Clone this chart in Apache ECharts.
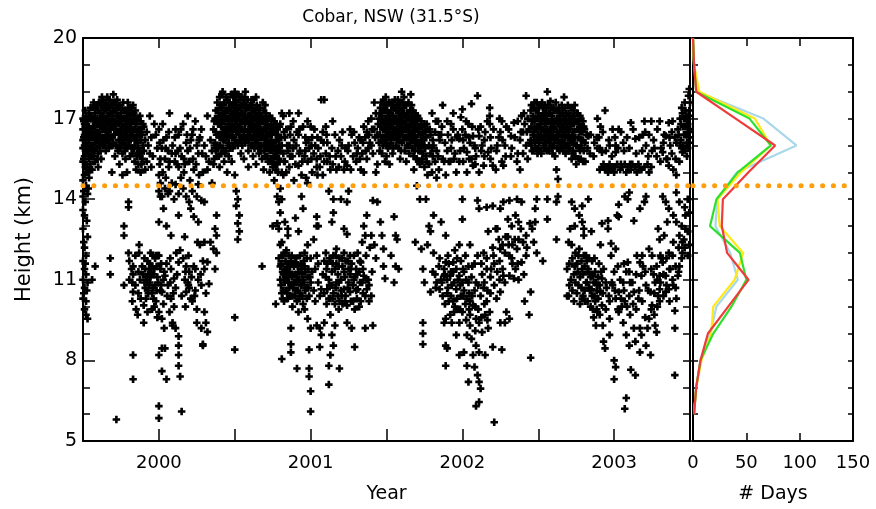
<!DOCTYPE html>
<html>
<head>
<meta charset="utf-8">
<script src="https://cdn.jsdelivr.net/npm/echarts@6/dist/echarts.min.js"></script>
<style>
  html, body { margin: 0; padding: 0; background: #fff; }
  #chart { width: 876px; height: 509px; }
</style>
</head>
<body>
<div id="chart"></div>
<script>
// tropopause heights (km), one row per date: [decimal year, height, height, ...]
var tp1999 = [
  [1999.50,17.0,16.6,16.2,15.9,15.4,14.7,14.1,13.6,12.9,11.7,11.0,10.3],
  [1999.51,16.8,16.4,16.0,15.6,14.9,13.4,12.2,11.4,10.7,9.9],
  [1999.52,17.1,16.5,16.1,15.7,15.2,14.5,11.9,11.2,10.2,9.7],
  [1999.53,16.9,16.3,15.8,15.0,14.2,12.6,10.9,9.55],
  [1999.54,17.2,16.7,16.2,15.5,14.8],
  [1999.55,17.4,16.6,16.0,15.3],
  [1999.56,17.0,16.4,15.8,15.1,11.0],
  [1999.57,17.6,16.9,16.3,15.6],
  [1999.58,17.2,16.7,16.1,15.4,11.5],
  [1999.59,17.5,16.5,15.9],
  [1999.60,17.3,16.8,16.2,15.7,15.2],
  [1999.61,17.6,17.0,16.4],
  [1999.62,17.5,16.9,16.1,15.5],
  [1999.63,17.7,17.1,16.6,16.0],
  [1999.64,17.3,16.7,16.3],
  [1999.65,17.6,17.0,16.5,15.8],
  [1999.66,17.8,16.9,16.2],
  [1999.67,17.4,16.8,16.4,15.9],
  [1999.68,17.2,16.6,16.0,11.8,11.2],
  [1999.69,17.5,17.0,16.3,15.0],
  [1999.70,17.9,17.3,16.7,16.1],
  [1999.71,17.6,16.9,16.4,15.6],
  [1999.72,17.4,16.8,16.0,5.8],
  [1999.73,17.1,16.5,15.8],
  [1999.74,17.5,16.9,16.2,15.3],
  [1999.75,17.2,16.6,16.0],
  [1999.76,17.0,16.4,15.7,14.9],
  [1999.77,17.3,16.7,16.1,13.0,12.65,10.8],
  [1999.78,16.9,16.3,15.5],
  [1999.79,17.1,16.5,15.9,15.0],
  [1999.80,17.4,16.8,16.2,13.9,13.7,12.0],
  [1999.81,17.0,16.4,15.6],
  [1999.82,17.2,16.6,15.9,11.4],
  [1999.83,17.5,16.9,16.3,11.5,11.2,10.55,8.2,7.3],
  [1999.84,17.1,16.0,15.4],
  [1999.85,16.8,16.3,15.1,9.9],
  [1999.86,17.0,16.1,15.7,9.7],
  [1999.87,16.6,15.8,12.3,12.0],
  [1999.88,16.9,16.2,15.0,10.3],
  [1999.89,16.4,15.5,11.5],
  [1999.90,16.7,15.8,10.05,9.4],
  [1999.91,16.2,15.1,11.4,10.7],
  [1999.92,16.5,15.4,11.0],
  [1999.93,16.0,11.2,10.5],
  [1999.94,17.1,15.7,11.6,10.9],
  [1999.95,16.3,15.2,11.3],
  [1999.96,15.6,11.9,10.7],
  [1999.97,16.8,11.4,10.0],
  [1999.98,16.4,11.9,10.2],
  [1999.99,15.9,11.1,9.6],
  [1999.505,16.9,16.3,15.5,14.3,12.4,10.5],
  [1999.515,17.3,16.7,15.9,15.2,13.9,11.6],
  [1999.525,16.6,16.0,15.3,13.2,10.6],
  [1999.535,17.0,16.4,15.7,14.4],
  [1999.545,16.5,15.9,15.1],
  [1999.555,17.1,16.3,15.6],
  [1999.565,17.4,16.7,16.0],
  [1999.575,17.0,16.5,15.8],
  [1999.585,17.4,16.9,16.3],
  [1999.595,17.0,16.2,15.5],
  [1999.605,17.6,16.5,16.0],
  [1999.615,17.2,16.8,15.8],
  [1999.625,17.8,16.7,16.3],
  [1999.635,17.4,16.9,16.2],
  [1999.645,17.5,17.0,16.0],
  [1999.655,17.3,16.8,16.2],
  [1999.665,17.5,17.1,16.5],
  [1999.675,17.7,16.6,16.1],
  [1999.685,17.5,16.9,16.3],
  [1999.695,17.2,16.7,16.0],
  [1999.705,17.6,16.9,16.4],
  [1999.715,17.3,16.6,16.0],
  [1999.725,17.7,17.1,16.5],
  [1999.735,17.4,16.8,16.2],
  [1999.745,17.0,16.5,15.9],
  [1999.755,17.4,16.9,16.3],
  [1999.765,17.6,16.7,16.1],
  [1999.775,17.0,16.5,15.8],
  [1999.785,17.3,16.7,16.0],
  [1999.795,17.6,16.8,16.3],
  [1999.805,17.2,16.6,16.0,11.7,11.0],
  [1999.815,17.4,16.8,16.2],
  [1999.825,16.9,16.4,15.7,10.9,10.2],
  [1999.835,17.2,16.6,15.9],
  [1999.845,17.3,16.6,16.2,11.9,10.8],
  [1999.855,16.9,16.4,15.6],
  [1999.865,16.6,15.9,15.3,11.3,10.5],
  [1999.875,17.1,16.4,15.6,11.0],
  [1999.885,16.5,15.7,15.3],
  [1999.895,16.8,16.0,11.2],
  [1999.905,11.8,10.9],
  [1999.915,11.1,10.3],
  [1999.925,11.7,10.6,9.8],
  [1999.935,11.4,10.8],
  [1999.945,12.0,11.1],
  [1999.955,11.5,10.5,9.9],
  [1999.965,11.2,10.3],
  [1999.975,11.8,10.8],
  [1999.985,11.5,10.6],
  [1999.995,11.9,10.9]
];
var tp2000 = [
  [2000.00,16.6,14.9,14.3,13.15,11.9,9.8,8.2,6.3,5.85],
  [2000.01,15.5,14.6,14.1,11.4,10.6],
  [2000.02,15.9,14.1,10.55,9.55,8.45,7.6],
  [2000.03,16.2,13.65,11.0,10.1],
  [2000.04,15.5,14.4,11.15,8.45],
  [2000.05,16.3,13.0,11.6,7.3],
  [2000.06,15.8,14.2,10.8],
  [2000.07,17.2,15.4,14.3,9.8],
  [2000.08,12.65,11.4,10.3],
  [2000.09,16.0,9.4,9.3],
  [2000.10,14.0,11.05,10.0],
  [2000.11,16.6,15.7,14.55,10.7,9.2],
  [2000.12,15.3,11.2],
  [2000.13,16.4,15.2,14.2,13.4,11.65,8.9,8.55,8.2,7.8],
  [2000.14,15.9,12.1,7.4],
  [2000.15,15.6,10.4,6.1],
  [2000.16,16.8,14.4,11.8],
  [2000.17,15.3,12.6,11.0],
  [2000.18,16.1,14.1,11.5,10.55],
  [2000.19,17.1,15.8,10.9],
  [2000.20,15.4,13.9,11.3,10.7],
  [2000.21,16.2,13.65,10.3],
  [2000.22,16.4,14.3,10.2],
  [2000.23,15.1,13.35,11.5],
  [2000.24,16.9,11.4,10.6],
  [2000.25,16.0,14.1,9.9,9.4],
  [2000.26,15.7,14.55,13.15,11.0],
  [2000.27,16.3,12.3],
  [2000.28,16.6,13.95,10.8,9.2],
  [2000.29,15.0,11.7,8.55,8.6],
  [2000.30,16.0,13.9,12.4,11.4,9.8],
  [2000.31,15.6,10.5,9.4],
  [2000.32,17.1,15.1,11.66,9.06],
  [2000.33,15.4,10.85],
  [2000.34,16.2,12.4],
  [2000.35,15.8,14.6],
  [2000.36,16.6,15.3,12.15],
  [2000.37,17.0,16.1,12.9,11.4],
  [2000.38,16.4,15.6,13.4,12.65,12.0],
  [2000.39,17.3,16.8,15.9],
  [2000.40,17.8,17.0,16.3,15.2],
  [2000.41,17.4,16.7,15.7],
  [2000.42,18.0,17.2,16.5,15.9],
  [2000.43,17.6,16.9,16.2,15.4],
  [2000.44,17.3,16.6,15.8],
  [2000.45,17.7,17.0,16.4,15.0],
  [2000.46,17.4,16.8,16.1,15.6],
  [2000.47,17.1,16.6,15.9],
  [2000.48,17.5,16.9,16.3,15.4],
  [2000.49,17.8,17.2,16.7,16.0],
  [2000.50,18.0,17.4,16.8,16.2,14.9,9.6,8.4],
  [2000.51,17.6,17.0,16.5,14.3,13.75],
  [2000.52,17.3,16.7,16.0,14.0,13.1,12.5],
  [2000.53,17.7,17.1,16.4,13.4,12.8],
  [2000.54,17.5,16.9,16.2,15.7],
  [2000.55,17.2,16.6,16.0],
  [2000.56,17.6,17.0,16.4,15.5],
  [2000.57,18.0,17.3,16.8,16.1],
  [2000.58,17.4,16.9,16.3],
  [2000.59,17.1,16.6,15.8,15.2],
  [2000.60,17.5,16.9,16.4],
  [2000.61,17.7,17.2,16.7,16.0],
  [2000.62,17.3,16.8,16.3,15.6],
  [2000.63,17.0,16.5,15.9],
  [2000.64,17.8,17.1,16.6,16.2,15.3],
  [2000.65,17.4,16.8,16.1],
  [2000.66,17.2,16.6,16.0,15.7],
  [2000.67,17.0,16.4,15.8],
  [2000.68,16.9,16.3,15.5,11.5],
  [2000.69,17.3,16.6,16.0,15.1],
  [2000.70,17.5,16.8,16.2,15.6],
  [2000.71,17.0,16.5,15.9],
  [2000.72,16.7,16.1,15.4],
  [2000.73,17.1,16.4,15.8,15.0],
  [2000.74,16.8,16.2,15.5],
  [2000.75,16.5,15.9,15.2,13.0],
  [2000.76,16.9,16.0,15.6,14.7],
  [2000.77,16.4,15.7,15.1,10.1],
  [2000.78,16.6,15.9,15.3,14.1,13.1],
  [2000.79,16.2,15.5,13.9,12.9,11.8],
  [2000.80,16.8,15.8,14.4,13.5,12.3,11.5,11.0],
  [2000.81,17.2,16.0,15.0,14.0,12.4,11.9,10.5,8.05],
  [2000.82,17.1,15.7,14.9,11.9,11.2,10.6],
  [2000.83,16.3,15.4,13.15,11.4,10.9],
  [2000.84,16.6,15.0,12.1,11.0],
  [2000.85,15.8,12.9,12.65,11.6,11.15,10.3],
  [2000.86,17.2,16.0,15.2,11.3,10.7],
  [2000.87,16.7,11.7,10.8,9.2,8.6,8.3],
  [2000.88,15.6,11.2,10.4,10.0],
  [2000.89,16.2,14.7,11.5,10.9],
  [2000.90,15.3,13.3,11.65,10.6],
  [2000.91,16.5,11.1,10.2,7.7],
  [2000.92,17.2,16.4,15.25,12.8,11.3,9.8],
  [2000.93,15.8,11.9,10.5],
  [2000.94,14.9,14.1,11.4,10.8],
  [2000.95,16.7,13.65,11.0,10.1],
  [2000.96,15.6,12.0,11.5,9.9],
  [2000.97,16.1,14.8,10.7],
  [2000.98,16.9,15.4,14.6,12.3,11.1,9.55],
  [2000.99,15.9,10.4,8.4,7.7,7.4],
  [2000.005,16.1,15.3],
  [2000.015,11.6,10.8],
  [2000.025,16.8,15.0],
  [2000.035,11.3,9.2],
  [2000.045,15.9,14.8],
  [2000.055,10.4],
  [2000.065,16.5,15.2],
  [2000.075,11.8,10.9],
  [2000.085,15.7,14.6],
  [2000.095,10.5],
  [2000.105,16.3,15.4],
  [2000.115,12.0],
  [2000.125,15.8],
  [2000.145,16.6,14.8],
  [2000.165,15.5,15.0],
  [2000.175,11.3,10.0],
  [2000.185,16.4],
  [2000.195,11.9,10.8],
  [2000.205,15.9,14.7],
  [2000.215,11.1],
  [2000.225,16.6,15.5],
  [2000.235,10.4],
  [2000.245,15.3],
  [2000.255,12.4],
  [2000.265,16.2,14.9],
  [2000.275,11.2],
  [2000.285,15.7],
  [2000.365,16.9,16.0,15.5],
  [2000.375,17.3,16.5,15.8],
  [2000.385,17.6,16.9,16.0],
  [2000.395,17.1,16.4,15.6],
  [2000.405,17.5,16.8,16.0],
  [2000.415,17.9,17.1,16.4],
  [2000.425,17.5,16.9,16.2],
  [2000.435,17.2,16.5,15.7],
  [2000.445,17.8,17.0,16.3],
  [2000.455,17.3,16.7,16.0],
  [2000.465,17.6,17.0,16.4],
  [2000.475,17.9,17.3,16.6],
  [2000.485,17.1,16.5,15.9],
  [2000.495,17.6,17.0,16.3],
  [2000.505,17.8,17.2,16.6],
  [2000.515,17.4,16.8,16.1],
  [2000.525,17.9,17.1,16.5],
  [2000.535,17.4,16.8,16.2],
  [2000.545,17.8,17.2,16.6],
  [2000.555,17.5,16.9,16.3],
  [2000.565,17.8,17.1,16.6],
  [2000.575,17.5,16.9,16.2],
  [2000.585,17.7,17.1,16.5],
  [2000.595,17.4,16.8,16.2],
  [2000.605,17.1,16.6,16.0],
  [2000.615,17.5,16.9,16.3],
  [2000.625,17.7,17.0,16.5],
  [2000.635,17.3,16.7,16.1],
  [2000.645,17.5,16.9,16.4],
  [2000.655,17.1,16.5,15.9],
  [2000.665,17.4,16.8,16.3],
  [2000.675,17.1,16.6,16.0],
  [2000.685,17.6,17.0,16.4],
  [2000.695,16.9,16.3,15.8],
  [2000.705,17.2,16.5,16.0],
  [2000.715,16.8,16.2,15.6],
  [2000.725,17.0,16.4,15.9],
  [2000.735,16.6,16.0,15.4],
  [2000.745,17.0,16.4,15.8],
  [2000.755,16.7,16.1,15.5],
  [2000.765,16.5,15.9,15.3],
  [2000.775,16.8,16.2,15.6],
  [2000.785,16.4,15.8,15.0],
  [2000.795,16.7,16.0,15.4],
  [2000.805,16.3,11.6,10.8],
  [2000.815,11.3,10.3],
  [2000.825,16.5,15.4,12.0,11.0,10.2],
  [2000.835,11.7,10.6],
  [2000.845,16.0,11.4,10.5],
  [2000.855,11.9,10.9],
  [2000.865,16.4,15.6,11.5,10.4],
  [2000.875,11.9,11.1],
  [2000.885,16.9,15.9,11.6,10.7],
  [2000.895,11.2,10.4],
  [2000.905,16.0,11.8,10.9],
  [2000.915,11.5,10.6],
  [2000.925,16.6,15.7,11.0,10.3],
  [2000.935,11.6,10.8],
  [2000.945,15.4,11.2,10.4],
  [2000.955,11.7,10.9],
  [2000.965,16.3,15.8,11.3,10.6],
  [2000.975,11.8,10.3],
  [2000.985,16.2,11.4,10.7],
  [2000.995,11.1]
];
var tp2001 = [
  [2001.00,16.7,11.8,10.9,9.2,6.85,6.1],
  [2001.01,16.3,15.0,11.3],
  [2001.02,15.7,12.5,10.6],
  [2001.03,16.0,11.4,10.2],
  [2001.04,15.5,15.2,13.35,13.0,11.9,9.3],
  [2001.05,15.9,13.0,11.6,10.9],
  [2001.06,15.2,10.4,9.2,8.5],
  [2001.07,17.7,16.2,10.65,8.95],
  [2001.08,16.5,14.9,11.2],
  [2001.09,17.7,15.4,11.7,10.5,9.4],
  [2001.10,16.7,15.7,12.0,11.1],
  [2001.11,16.1,15.4,11.6,10.65],
  [2001.12,14.3,11.0,10.3,7.8,7.1],
  [2001.13,15.1,11.7,10.3,9.7,8.2],
  [2001.14,15.9,13.15,11.3,10.8,8.95],
  [2001.15,14.0,13.5,11.9,10.5,8.55],
  [2001.16,16.4,11.4,10.1,9.3],
  [2001.17,15.1,12.15,11.6,10.9],
  [2001.18,15.8,11.2,10.4],
  [2001.19,16.2,11.8,10.2,7.7],
  [2001.20,15.6,14.0,11.0,10.6],
  [2001.21,16.5,11.5,10.1],
  [2001.22,15.1,12.9,12.0,11.3,10.65],
  [2001.23,15.9,11.7,10.4],
  [2001.24,15.25,13.9,12.7,10.05,9.4],
  [2001.25,16.0,14.3,11.4,10.9],
  [2001.26,16.6,11.9,11.2,10.55],
  [2001.27,16.4,11.6,9.2],
  [2001.28,15.6,10.8,10.2],
  [2001.29,16.1,11.1,9.9,8.5],
  [2001.30,15.4,11.4,10.6],
  [2001.31,15.9,12.0,10.65],
  [2001.32,16.3,11.3,10.0],
  [2001.33,16.2,15.1,11.65,10.2],
  [2001.34,15.7,12.4,10.9],
  [2001.35,16.7,15.0,13.0,11.15],
  [2001.36,16.3,12.65,10.4,9.2],
  [2001.37,16.5,15.5,13.4,10.65],
  [2001.38,16.9,15.9,11.0],
  [2001.39,16.1,12.2],
  [2001.40,17.0,16.0,12.65,10.4],
  [2001.41,15.7,13.95,9.3],
  [2001.42,17.6,16.6,12.3],
  [2001.43,17.2,15.0,11.8],
  [2001.44,16.4,15.3,13.9],
  [2001.45,17.0,16.1],
  [2001.46,17.4,16.7,13.15],
  [2001.47,17.1,15.7,12.65],
  [2001.48,17.7,16.9,16.3,12.15,11.5],
  [2001.49,17.3,16.6,15.4,11.05],
  [2001.50,17.5,16.8,16.2,15.6],
  [2001.51,17.2,16.5,15.9],
  [2001.52,17.6,17.0,16.4,15.3],
  [2001.53,17.3,16.7,16.1,11.9],
  [2001.54,17.6,16.9,16.3,15.7],
  [2001.55,17.4,16.6,13.35,10.9],
  [2001.56,17.0,16.4,12.65,11.5],
  [2001.57,17.5,16.8,16.2,12.5],
  [2001.58,17.2,16.6,15.9,11.4],
  [2001.59,17.6,17.0,16.4,15.5],
  [2001.60,18.0,17.3,16.7,16.1],
  [2001.61,17.4,16.9,16.2],
  [2001.62,17.1,16.6,15.8],
  [2001.63,17.5,16.9,16.3,15.4],
  [2001.64,17.2,16.7,16.0],
  [2001.65,17.0,16.5,15.7],
  [2001.66,17.9,17.3,16.8,16.2],
  [2001.67,17.1,16.5,15.9],
  [2001.68,16.9,16.3,15.6,15.1],
  [2001.69,17.2,16.6,16.0,12.4],
  [2001.70,16.8,16.1,15.5,14.5],
  [2001.71,17.0,16.4,15.8],
  [2001.72,16.7,16.0,15.3,14.0],
  [2001.73,16.9,16.2,12.15],
  [2001.74,16.5,15.7,11.4,9.4,9.0,8.6],
  [2001.75,16.8,16.0,15.2,10.9],
  [2001.76,16.3,15.6,14.0],
  [2001.77,16.6,14.9,12.3],
  [2001.78,16.0,15.3,13.0],
  [2001.79,16.4,15.7,12.8,10.55],
  [2001.80,17.2,15.9,15.0],
  [2001.81,16.0,13.4,12.0],
  [2001.82,16.5,15.4,11.2],
  [2001.83,15.8,14.8,10.9],
  [2001.84,16.9,15.6],
  [2001.85,16.2,11.8,10.65],
  [2001.86,16.4,13.15,11.0],
  [2001.87,17.5,15.5,10.4],
  [2001.88,15.4,11.4,11.15,9.4],
  [2001.89,14.9,12.65,11.65,9.55,8.55,7.8],
  [2001.90,16.9,15.8,11.0,10.5,8.45],
  [2001.91,15.4,11.6,10.2],
  [2001.92,15.4,11.15,9.7],
  [2001.93,16.2,10.8,9.4],
  [2001.94,17.2,16.6,11.65,11.3,10.2],
  [2001.95,15.7,12.1,10.0],
  [2001.96,15.0,11.4,10.65,8.95],
  [2001.97,16.4,11.0,9.9],
  [2001.98,16.25,15.4,12.3,11.15,9.4,8.2],
  [2001.99,17.05,11.7,10.4],
  [2001.005,16.0,15.5],
  [2001.025,16.6],
  [2001.045,16.3,14.9],
  [2001.065,15.6],
  [2001.085,16.1],
  [2001.105,16.4,11.4,10.1],
  [2001.125,15.6,11.8,10.8],
  [2001.145,16.9,15.3,11.6,10.3],
  [2001.165,15.6,11.9,10.7],
  [2001.185,15.2,11.5,10.9,9.9],
  [2001.205,16.0,11.8,10.4],
  [2001.225,15.4,11.1,10.2],
  [2001.245,15.8,11.7,10.7],
  [2001.265,15.1,11.4,10.2],
  [2001.285,16.5,11.9,11.0],
  [2001.305,15.7,11.2,10.3],
  [2001.325,15.5,11.7,10.9],
  [2001.345,16.1,11.4,10.5],
  [2001.365,15.8,11.9,11.0],
  [2001.385,16.4,10.8,10.2],
  [2001.405,16.6,11.3],
  [2001.425,16.3],
  [2001.445,16.8],
  [2001.455,17.2,16.4,15.8],
  [2001.465,17.6,16.9,16.2],
  [2001.475,17.3,16.6,16.0],
  [2001.485,17.5,16.8,16.1],
  [2001.495,17.8,17.0,16.4],
  [2001.505,17.3,16.6,16.0],
  [2001.515,17.6,16.9,16.3],
  [2001.525,17.2,16.7,16.0],
  [2001.535,17.5,16.9,16.4],
  [2001.545,17.1,16.5,15.9],
  [2001.555,17.7,16.9,16.3],
  [2001.565,17.3,16.6,16.0],
  [2001.575,17.7,16.9,16.4],
  [2001.585,17.4,16.8,16.2],
  [2001.595,17.1,16.5,15.8],
  [2001.605,17.6,16.9,16.4],
  [2001.615,17.8,17.2,16.6],
  [2001.625,17.5,16.8,16.3],
  [2001.635,17.2,16.6,16.0],
  [2001.645,17.6,17.0,16.4],
  [2001.655,17.3,16.7,16.1],
  [2001.665,17.5,16.9,16.4],
  [2001.675,17.3,16.7,16.2],
  [2001.685,17.0,16.5,15.8],
  [2001.695,16.8,16.2,15.5],
  [2001.705,17.1,16.6,16.0],
  [2001.715,16.7,16.1,15.4],
  [2001.725,16.4,15.8],
  [2001.735,16.7,16.0,15.5],
  [2001.745,16.2],
  [2001.755,16.5,15.9],
  [2001.765,16.8,15.4],
  [2001.785,16.6],
  [2001.805,16.2,15.6,11.3],
  [2001.825,16.9,10.7],
  [2001.845,16.4,15.1,11.5],
  [2001.865,16.7,10.9],
  [2001.885,16.1,11.2,10.1],
  [2001.905,16.4,11.9,10.7],
  [2001.925,16.8,15.9,11.3,10.4],
  [2001.945,15.5,10.9,9.8],
  [2001.965,16.3,11.8,10.3],
  [2001.985,15.8,10.8,9.9]
];
var tp2002 = [
  [2002.00,17.35,16.6,14.0,13.25,10.9,9.8],
  [2002.01,15.9,11.3,10.6,8.3],
  [2002.02,16.4,11.9,10.1],
  [2002.03,15.75,15.0,10.3,8.95,7.8],
  [2002.04,16.8,11.5,10.9,7.2],
  [2002.05,16.1,12.3,10.2,9.7,9.3],
  [2002.06,17.55,15.5,11.1,8.8],
  [2002.07,16.35,15.25,10.05,8.2],
  [2002.08,16.0,11.6,10.6,7.75],
  [2002.09,15.6,10.9,9.55,8.55,6.3],
  [2002.10,17.85,13.95,11.9,7.45],
  [2002.11,16.35,15.0,13.65,9.4,8.3,7.2,6.45],
  [2002.12,16.7,10.4,6.95],
  [2002.13,16.0,11.2,9.05],
  [2002.14,15.25,12.0,10.7],
  [2002.15,16.5,9.7,8.2],
  [2002.16,13.7,11.8,11.4,10.2],
  [2002.17,15.75,12.8,9.2],
  [2002.18,17.4,17.1,16.8,9.8],
  [2002.19,15.9,11.4],
  [2002.20,15.25,13.75,12.2,8.5],
  [2002.21,11.6,10.8,5.7],
  [2002.22,15.1,12.9],
  [2002.23,16.0,12.9,11.3],
  [2002.24,16.3,12.5],
  [2002.25,16.5,13.65,12.15,10.55,9.4],
  [2002.26,16.9,15.4,8.4],
  [2002.27,15.25,13.9,11.15],
  [2002.28,16.0,12.0,10.9,9.4],
  [2002.29,16.7,9.8],
  [2002.30,13.25,12.6],
  [2002.31,13.95,11.9,11.15,9.55],
  [2002.32,16.35,15.6],
  [2002.33,12.3,11.6],
  [2002.34,16.85,11.05],
  [2002.35,13.4,11.4],
  [2002.36,15.4,14.0,12.15],
  [2002.37,13.15,12.5,11.0],
  [2002.38,16.2,15.1],
  [2002.39,17.1,13.9,11.65],
  [2002.40,16.5,15.7,12.4],
  [2002.41,16.8,10.2],
  [2002.42,17.85,16.0,12.65,11.9],
  [2002.43,17.0,15.5],
  [2002.44,16.6,9.7],
  [2002.45,17.3,16.2,10.55,8.1],
  [2002.46,16.9,15.8,12.9],
  [2002.47,17.4,16.5,12.4],
  [2002.48,17.0,16.1,13.65,13.15],
  [2002.49,17.6,16.7,14.0,12.0],
  [2002.50,17.2,16.4,15.9],
  [2002.51,17.5,16.8,16.2],
  [2002.52,17.1,16.6,15.7],
  [2002.53,17.4,16.3,11.7],
  [2002.54,17.0,16.5,15.9],
  [2002.55,17.3,16.8,16.1],
  [2002.56,18.0,16.6,14.0,13.25],
  [2002.57,17.2,16.4,15.8],
  [2002.58,17.65,16.9,16.2],
  [2002.59,17.1,16.5,15.9],
  [2002.60,17.4,16.7,16.0],
  [2002.61,16.9,16.3,15.6],
  [2002.62,17.3,15.1,13.9,12.5],
  [2002.63,16.8,16.2,14.75,14.1],
  [2002.64,17.2,16.5,15.8],
  [2002.65,16.9,16.0],
  [2002.66,17.3,16.6,15.9],
  [2002.67,17.8,16.8,16.1],
  [2002.68,17.0,16.4,15.7],
  [2002.69,16.7,16.0,11.4,10.4],
  [2002.70,17.2,16.5,15.8,12.4,10.4],
  [2002.71,16.9,16.2,12.9],
  [2002.72,17.4,16.8,16.1,15.5,13.9,12.3],
  [2002.73,17.1,16.5,15.8],
  [2002.74,17.5,16.3,15.6,13.65,13.0,11.5],
  [2002.75,16.9,16.0,15.3],
  [2002.76,17.2,16.6,11.3],
  [2002.77,16.8,15.9,13.4,12.15],
  [2002.78,17.0,16.2,15.5],
  [2002.79,16.5,13.75,13.15,11.4,10.3],
  [2002.80,16.7,15.8,12.9,12.65,11.9],
  [2002.81,16.1,15.4,10.2],
  [2002.82,16.4,11.7,10.9],
  [2002.83,16.35,14.0,11.4],
  [2002.84,15.7,10.6],
  [2002.85,12.8,11.2,10.65],
  [2002.86,11.15,9.9],
  [2002.87,16.1,11.8,10.4],
  [2002.88,10.9,9.3],
  [2002.89,17.0,15.9,10.8,9.8],
  [2002.90,16.3,11.6],
  [2002.91,16.7,12.3,10.55],
  [2002.92,15.75,15.2,13.1,11.05,10.05],
  [2002.93,15.3,11.4,8.7],
  [2002.94,17.3,15.1,8.45],
  [2002.95,15.2,10.7],
  [2002.96,15.0,13.2,12.9],
  [2002.97,16.0,15.3,10.2,9.55,8.95],
  [2002.98,15.1,12.35,11.9],
  [2002.99,16.6,15.2,10.8],
  [2002.005,16.2,15.4,11.4,10.4],
  [2002.025,16.9,11.0,9.5],
  [2002.045,16.3,15.5,10.5,9.9],
  [2002.065,16.7,11.5,10.4],
  [2002.085,15.9,15.3,10.0,9.1],
  [2002.105,16.6,10.8,9.9],
  [2002.125,15.8,11.6,9.6],
  [2002.145,16.2,15.6,10.9,10.1],
  [2002.165,16.9,10.6,9.5],
  [2002.185,16.3,15.5,11.1,10.5],
  [2002.205,16.6,11.9],
  [2002.225,15.8,10.3],
  [2002.245,17.0,11.7,11.0],
  [2002.265,16.2,12.3,11.4],
  [2002.285,15.6,12.6],
  [2002.305,16.6,12.3],
  [2002.325,15.9,13.0,11.8],
  [2002.345,16.3,12.5],
  [2002.365,16.9,15.7,11.6],
  [2002.385,16.5,12.9],
  [2002.405,17.2,11.2],
  [2002.425,16.5,12.2],
  [2002.445,16.1,13.1],
  [2002.455,17.5,16.7,16.0],
  [2002.465,17.1,16.4,15.8],
  [2002.475,17.6,16.9,16.2],
  [2002.485,17.3,16.6,15.9],
  [2002.495,17.0,16.3,15.7],
  [2002.505,17.4,16.7,16.1],
  [2002.515,17.0,16.4,15.8],
  [2002.525,17.6,16.9,16.3],
  [2002.535,17.2,16.6,16.0],
  [2002.545,17.5,16.8,16.2],
  [2002.555,17.1,16.4,15.8],
  [2002.565,17.5,16.9,16.2],
  [2002.575,17.2,16.6,16.0],
  [2002.585,17.4,16.8,16.3],
  [2002.595,16.9,16.4,15.7],
  [2002.605,17.3,16.6,16.1],
  [2002.615,17.6,16.9,16.3],
  [2002.625,17.0,16.5,15.9],
  [2002.635,17.4,16.8,16.1],
  [2002.645,17.1,16.4,15.9],
  [2002.655,17.5,16.7,16.2],
  [2002.665,17.1,16.5,15.8],
  [2002.675,17.4,16.9,16.3],
  [2002.685,17.2,16.6,16.0],
  [2002.695,17.5,16.9,16.3],
  [2002.705,17.1,16.6,15.9,11.6,10.8],
  [2002.715,17.4,16.8,16.2,11.0],
  [2002.725,17.0,16.4,15.7,11.8,10.6],
  [2002.735,17.3,16.8,16.1,11.2,10.2],
  [2002.745,16.9,16.3,15.6,12.0,10.9],
  [2002.755,17.2,16.6,16.0,11.6,10.5],
  [2002.765,16.9,16.3,15.5,11.9,10.8],
  [2002.775,17.1,16.5,15.8,11.1,10.1],
  [2002.785,16.7,16.0,11.7,10.7],
  [2002.795,16.9,16.2,15.4,11.2,10.4],
  [2002.805,16.6,11.5,10.6],
  [2002.815,11.9,10.9],
  [2002.825,15.9,11.3,10.2],
  [2002.835,11.8,10.7],
  [2002.845,16.4,11.1,10.0],
  [2002.855,11.7,10.4],
  [2002.865,15.6,10.9,9.6],
  [2002.875,11.3,10.2],
  [2002.885,16.3,10.6,9.9],
  [2002.895,11.1,10.3],
  [2002.905,15.9,15.1,10.8,9.7],
  [2002.915,11.3],
  [2002.925,16.5,10.5,9.3],
  [2002.945,15.8,10.9,9.9],
  [2002.965,16.2,15.2,10.4],
  [2002.985,15.6,10.9]
];
var tp2003 = [
  [2003.00,15.0,11.3,8.0,7.3],
  [2003.01,16.0,15.75,12.15,10.3,7.75],
  [2003.02,15.3,13.4],
  [2003.03,16.6,13.8,13.35,10.55,9.8],
  [2003.04,15.1,11.0],
  [2003.05,15.2,10.0],
  [2003.06,16.1,10.9,9.4],
  [2003.07,15.3,14.1,10.2,6.2],
  [2003.08,15.0,11.3,8.95,6.6],
  [2003.09,15.2,14.0,11.65],
  [2003.10,15.9,14.25,11.3,10.4,8.55],
  [2003.11,16.85,15.1,7.65],
  [2003.12,15.3,10.9],
  [2003.13,13.2,10.55,9.2],
  [2003.14,16.25,15.2,8.7,7.45],
  [2003.15,15.0,11.9],
  [2003.16,15.3,10.3],
  [2003.17,13.65,11.65,9.2,8.3],
  [2003.18,15.1,11.15,8.95],
  [2003.19,16.4,11.5],
  [2003.20,16.9,15.2,13.9],
  [2003.21,16.0,14.1,10.8,8.55],
  [2003.22,15.3,9.2],
  [2003.23,16.4,15.0,12.15,9.55],
  [2003.24,10.55,8.2],
  [2003.25,15.8,11.9,10.05],
  [2003.26,16.2,11.2],
  [2003.27,10.9,9.3],
  [2003.28,15.6,11.5,9.05],
  [2003.29,12.9,10.4],
  [2003.30,16.9,12.5,11.15,10.65,10.2],
  [2003.31,15.9,11.8],
  [2003.32,15.75,14.1,11.65],
  [2003.33,16.4,12.65],
  [2003.34,16.35,13.9,11.15,10.55],
  [2003.35,15.5,13.15],
  [2003.36,16.85,15.25,13.65,12.0,10.65],
  [2003.37,16.0,11.4],
  [2003.38,16.5,15.7],
  [2003.39,15.1,13.4,12.4,10.8],
  [2003.40,16.3,9.85,9.2,7.45],
  [2003.41,16.1,14.9,14.25,13.15,10.3],
  [2003.42,16.6,11.15],
  [2003.43,15.4,13.9,12.65,11.5],
  [2003.44,16.8,16.2],
  [2003.45,17.2,15.75,12.4,12.0],
  [2003.46,17.0,16.4,12.5],
  [2003.47,17.3,16.7,13.4,12.9],
  [2003.48,16.9,16.1,15.6],
  [2003.49,17.85,17.1,16.5,16.1],
  [2003.50,17.6,16.6],
  [2003.005,16.3,15.2,10.6],
  [2003.025,15.9,11.5,9.9],
  [2003.045,16.5,15.3,10.3],
  [2003.065,15.8,11.6,10.6],
  [2003.085,16.3,10.0],
  [2003.105,15.3,10.9,9.7],
  [2003.125,16.6,10.1],
  [2003.145,15.7,11.2,9.9],
  [2003.165,16.3,15.2,10.6],
  [2003.185,15.8,11.9,10.2],
  [2003.205,16.5,11.3,9.6],
  [2003.225,15.6,10.6],
  [2003.245,16.9,15.2,11.4,9.9],
  [2003.265,15.9,10.5,9.7],
  [2003.285,16.6,11.0,10.0],
  [2003.305,15.4,11.9,10.9],
  [2003.325,16.1,11.2,10.4],
  [2003.345,15.5,11.8,10.8],
  [2003.365,16.3,11.4,10.2],
  [2003.385,16.9,11.9,11.0],
  [2003.405,15.5,11.5,10.7],
  [2003.425,16.4,12.2,11.3],
  [2003.435,17.0,16.0],
  [2003.445,17.4,15.9,13.0,11.8],
  [2003.455,16.7,16.0],
  [2003.465,17.6,15.8,13.7,12.2],
  [2003.475,17.1,16.4],
  [2003.485,16.8,15.9,14.0,12.8,11.9],
  [2003.495,18.1,17.3,16.3,13.5,12.3]
];

// histogram of tropopause height: number of days per 1 km bin, one list per year
var histKm     = [6, 7, 8, 9, 10, 11, 12, 13, 14, 15, 16, 17, 18, 19, 20];
var daysBlue   = [1, 3, 7, 16, 22, 42, 35, 21, 23, 41, 97, 66, 4, 1, 0];
var daysYellow = [1, 3, 8, 17, 19, 39, 47, 25, 23, 45, 73, 58, 6, 1, 0];
var daysGreen  = [1, 3, 7, 19, 36, 50, 44, 16, 22, 42, 73, 53, 3, 1, 0];
var daysRed    = [1, 3, 7, 14, 33, 52, 32, 27, 28, 52, 77, 40, 3, 1, 0];

var yearTicks = [2000, 2001, 2002, 2003];
var heightTicks = [5, 8, 11, 14, 17, 20];
var dayTicks = [0, 50, 100, 150];
var threshold = 14.5;

var FONT = 'DejaVu Sans';
var INK = '#000';

function flatten(rows) {
  var out = [];
  rows.forEach(function(r) {
    for (var i = 1; i < r.length; i++) out.push([r[0], r[i]]);
  });
  return out;
}

function histLine(days, color) {
  return {
    type: 'line', xAxisIndex: 2, yAxisIndex: 3,
    data: histKm.map(function(k, i) { return [days[i], k]; }),
    symbol: 'none', silent: true,
    lineStyle: { color: color, width: 2.2 }
  };
}

function frameAxis(extra) {
  var base = {
    axisLine: { show: true, onZero: false, lineStyle: { color: INK, width: 2 } },
    axisTick: { show: true, inside: true, length: 7, lineStyle: { color: INK, width: 1.5 } },
    axisLabel: { show: false },
    splitLine: { show: false }
  };
  return Object.assign(base, extra);
}

var points = flatten(tp1999).concat(flatten(tp2000), flatten(tp2001), flatten(tp2002), flatten(tp2003));

var chart = echarts.init(document.getElementById('chart'), null, { renderer: 'canvas' });

var option = {
  animation: false,
  backgroundColor: '#fff',
  title: {
    text: 'Cobar, NSW (31.5°S)',
    left: 386, top: 4, textAlign: 'center',
    textStyle: { fontFamily: FONT, fontSize: 17, fontWeight: 'normal', color: INK }
  },
  grid: [
    { left: 83, top: 38, width: 607, height: 404 },
    { left: 693, top: 38, width: 160, height: 404 }
  ],
  xAxis: [
    frameAxis({
      type: 'value', gridIndex: 0, position: 'bottom', min: 1999.5, max: 2003.5, interval: 0.5,
      axisTick: { show: true, inside: true, length: 12, lineStyle: { color: INK, width: 1.5 } },
      axisLabel: {
        show: true, margin: 13, color: INK, fontFamily: FONT, fontSize: 18,
        formatter: function(v) { return yearTicks.indexOf(v) >= 0 ? String(v) : ''; }
      },
      name: 'Year', nameLocation: 'middle', nameGap: 44,
      nameTextStyle: { fontFamily: FONT, fontSize: 19, color: INK }
    }),
    frameAxis({
      type: 'value', gridIndex: 0, position: 'top', min: 1999.5, max: 2003.5, interval: 0.5,
      axisTick: { show: true, inside: true, length: 10, lineStyle: { color: INK, width: 1.5 } }
    }),
    frameAxis({
      type: 'value', gridIndex: 1, position: 'bottom', min: 0, max: 150, interval: 50,
      axisTick: { show: true, inside: true, length: 8, lineStyle: { color: INK, width: 1.5 } },
      axisLabel: {
        show: true, margin: 13, color: INK, fontFamily: FONT, fontSize: 18,
        formatter: function(v) { return dayTicks.indexOf(v) >= 0 ? String(v) : ''; }
      },
      name: '# Days', nameLocation: 'middle', nameGap: 44,
      nameTextStyle: { fontFamily: FONT, fontSize: 19, color: INK }
    }),
    frameAxis({
      type: 'value', gridIndex: 1, position: 'top', min: 0, max: 150, interval: 50,
      axisTick: { show: true, inside: true, length: 8, lineStyle: { color: INK, width: 1.5 } }
    })
  ],
  yAxis: [
    frameAxis({
      type: 'value', gridIndex: 0, position: 'left', min: 5, max: 20, interval: 1,
      axisLabel: {
        show: true, margin: 6, color: INK, fontFamily: FONT, fontSize: 19,
        formatter: function(v) { return heightTicks.indexOf(v) >= 0 ? String(v) : ''; }
      },
      name: 'Height (km)', nameLocation: 'middle', nameGap: 48,
      nameTextStyle: { fontFamily: FONT, fontSize: 21, color: INK }
    }),
    frameAxis({
      type: 'value', gridIndex: 0, position: 'right', min: 5, max: 20, interval: 1
    }),
    frameAxis({
      type: 'value', gridIndex: 0, position: 'left', min: 5, max: 20, interval: 1,
      axisLine: { show: false },
      axisTick: { show: true, inside: true, length: 12, customValues: heightTicks,
                  lineStyle: { color: INK, width: 1.5 } }
    }),
    frameAxis({
      type: 'value', gridIndex: 1, position: 'left', min: 5, max: 20, interval: 1,
      axisTick: { show: true, inside: true, length: 5, lineStyle: { color: INK, width: 1.5 } }
    }),
    frameAxis({
      type: 'value', gridIndex: 1, position: 'right', min: 5, max: 20, interval: 1,
      axisTick: { show: true, inside: true, length: 5, lineStyle: { color: INK, width: 1.5 } }
    }),
    frameAxis({
      type: 'value', gridIndex: 1, position: 'right', min: 5, max: 20, interval: 1,
      axisLine: { show: false },
      axisTick: { show: true, inside: true, length: 9, customValues: heightTicks,
                  lineStyle: { color: INK, width: 1.5 } }
    })
  ],
  series: [
    {
      type: 'scatter', xAxisIndex: 0, yAxisIndex: 0,
      data: points, large: false, silent: true,
      symbol: 'path://M2.4,0H5V2.4H7.4V5H5V7.4H2.4V5H0V2.4H2.4Z',
      symbolSize: 7.5,
      itemStyle: { color: INK, opacity: 1 }
    },
    {
      type: 'line', xAxisIndex: 0, yAxisIndex: 0, silent: true, symbol: 'none', z: 5,
      data: [[1999.5, threshold], [2003.5, threshold]],
      lineStyle: { color: '#FF9E0A', width: 5, type: [0.1, 10.7], cap: 'round' }
    },
    histLine(daysBlue, '#A8D8EA'),
    histLine(daysYellow, '#FFE81A'),
    histLine(daysGreen, '#2EE02E'),
    histLine(daysRed, '#EE3B3B'),
    {
      type: 'line', xAxisIndex: 2, yAxisIndex: 3, silent: true, symbol: 'none', z: 5,
      data: [[0, threshold], [150, threshold]],
      lineStyle: { color: '#FF9E0A', width: 5, type: [0.1, 10.7], cap: 'round' }
    }
  ]
};

chart.setOption(option);
</script>
</body>
</html>
